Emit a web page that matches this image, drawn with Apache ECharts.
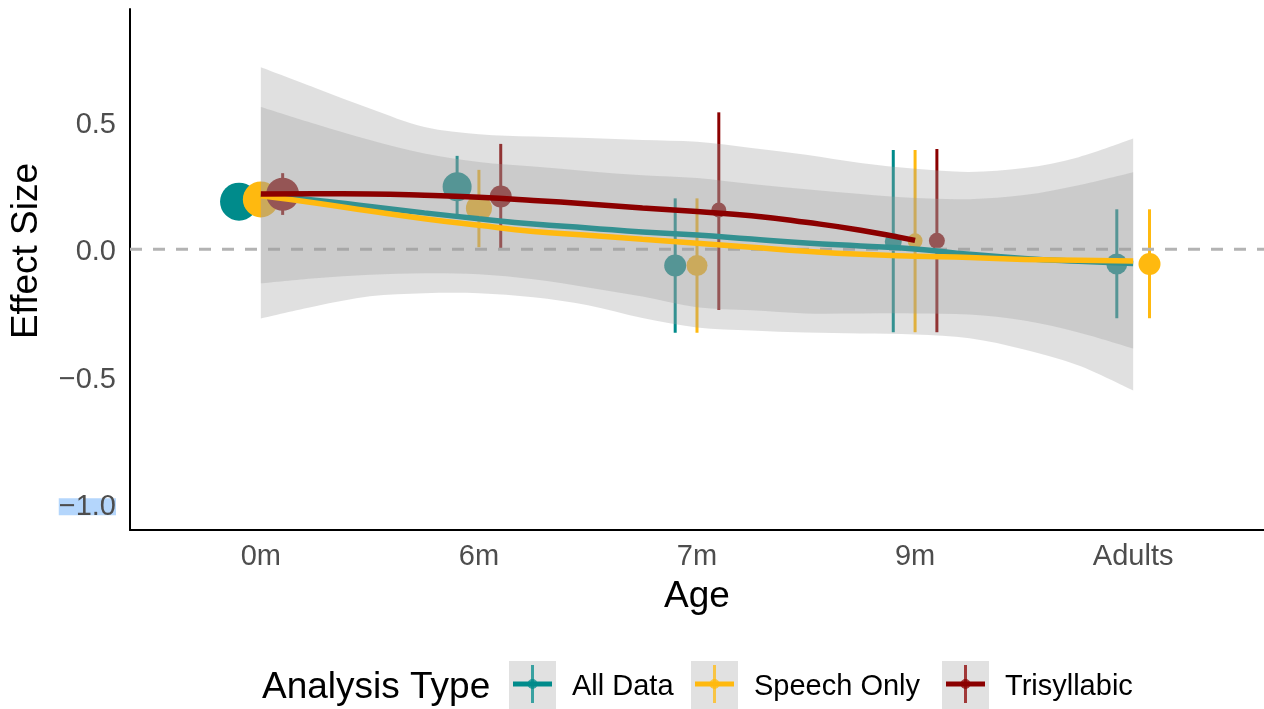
<!DOCTYPE html>
<html>
<head>
<meta charset="utf-8">
<script src="https://cdn.jsdelivr.net/npm/echarts@6/dist/echarts.min.js"></script>
<style>
  html, body { margin: 0; padding: 0; background: #fff; }
  #chart { width: 1264px; height: 709px; }
</style>
</head>
<body>
<div id="chart"></div>
<script>
// ---- data -------------------------------------------------------------
const ageLabels = ['0m', '6m', '7m', '9m', 'Adults'];
const yTickValues = [-1, -0.5, 0, 0.5];
const groupNames = ['All Data', 'Speech Only', 'Trisyllabic'];
const groupColors = ['#008B8B', '#FFB90F', '#8B0000'];

// pooled effect size per age group, with 95% CI and point weight (diameter)
const allDataMean = [0.187, 0.246, -0.064, 0.030, -0.058];
const allDataLow  = [0.125, 0.128, -0.328, -0.326, -0.271];
const allDataHigh = [0.250, 0.367, 0.200, 0.390, 0.157];
const allDataSize = [38, 29, 22, 17, 21];

const speechMean = [0.196, 0.161, -0.064, 0.033, -0.058];
const speechLow  = [0.135, 0.008, -0.328, -0.326, -0.271];
const speechHigh = [0.257, 0.312, 0.200, 0.390, 0.157];
const speechSize = [36, 26, 21, 15, 22];

const triMean = [0.216, 0.207, 0.154, 0.033];
const triLow  = [0.135, 0.000, -0.238, -0.326];
const triHigh = [0.299, 0.414, 0.538, 0.394];
const triSize = [33, 22, 15, 16];

// loess fits evaluated along the age axis
const fitX = [1, 1.25, 1.5, 1.75, 2, 2.25, 2.5, 2.75, 3, 3.25, 3.5, 3.75, 4, 4.25, 4.5, 4.75, 5];
const allDataFit = [0.215, 0.193, 0.168, 0.143, 0.120, 0.099, 0.084, 0.068, 0.056, 0.040, 0.025, 0.013, 0.001, -0.020, -0.036, -0.047, -0.056];
const speechFit  = [0.210, 0.182, 0.150, 0.120, 0.094, 0.070, 0.055, 0.039, 0.024, 0.008, -0.008, -0.020, -0.027, -0.032, -0.040, -0.043, -0.046];
const triFit     = [0.217, 0.218, 0.217, 0.212, 0.204, 0.192, 0.178, 0.162, 0.148, 0.132, 0.106, 0.075, 0.035];

// confidence bands of the fits
const wideBandHigh  = [0.715, 0.634, 0.553, 0.480, 0.452, 0.443, 0.437, 0.429, 0.422, 0.398, 0.371, 0.339, 0.316, 0.304, 0.319, 0.362, 0.435];
const wideBandLow   = [-0.272, -0.224, -0.185, -0.173, -0.173, -0.189, -0.220, -0.270, -0.307, -0.319, -0.327, -0.331, -0.335, -0.350, -0.394, -0.457, -0.555];
const narrowBandHigh = [0.559, 0.492, 0.429, 0.376, 0.343, 0.325, 0.307, 0.291, 0.280, 0.256, 0.236, 0.217, 0.201, 0.197, 0.213, 0.252, 0.303];
const narrowBandLow  = [-0.134, -0.114, -0.100, -0.094, -0.098, -0.118, -0.150, -0.186, -0.228, -0.240, -0.252, -0.252, -0.252, -0.256, -0.280, -0.327, -0.390];

// ---- helpers ----------------------------------------------------------
const FONT = 'Liberation Sans, Arial, Helvetica, sans-serif';
const RIBBON = 'rgba(158,158,158,0.32)';
const DODGE_WIDTH = 0.3;

const groups = [
  { name: groupNames[0], color: groupColors[0], mean: allDataMean, lo: allDataLow, hi: allDataHigh, size: allDataSize, fit: allDataFit },
  { name: groupNames[1], color: groupColors[1], mean: speechMean, lo: speechLow, hi: speechHigh, size: speechSize, fit: speechFit },
  { name: groupNames[2], color: groupColors[2], mean: triMean, lo: triLow, hi: triHigh, size: triSize, fit: triFit }
];

// side-by-side placement of the groups present at an age
function dodgeX(gi, ai) {
  const present = groups.map((g, k) => (g.mean[ai] != null ? k : -1)).filter(k => k >= 0);
  const n = present.length;
  const rank = present.indexOf(gi);
  return ai + 1 + (rank - (n - 1) / 2) * (DODGE_WIDTH / n);
}

// Catmull-Rom curve through pixel points, as SVG path commands
function curveCmds(pts) {
  let d = '';
  for (let i = 0; i < pts.length - 1; i++) {
    const p0 = pts[Math.max(i - 1, 0)], p1 = pts[i], p2 = pts[i + 1], p3 = pts[Math.min(i + 2, pts.length - 1)];
    const c1 = [p1[0] + (p2[0] - p0[0]) / 6, p1[1] + (p2[1] - p0[1]) / 6];
    const c2 = [p2[0] - (p3[0] - p1[0]) / 6, p2[1] - (p3[1] - p1[1]) / 6];
    d += ' C' + c1[0] + ' ' + c1[1] + ' ' + c2[0] + ' ' + c2[1] + ' ' + p2[0] + ' ' + p2[1];
  }
  return d;
}

function bandSeries(high, low, z) {
  return {
    type: 'custom', silent: true, z: z, data: [[fitX[0], 0]],
    renderItem: function (params, api) {
      const top = fitX.map((x, i) => api.coord([x, high[i]]));
      const bot = fitX.map((x, i) => api.coord([x, low[i]])).reverse();
      const d = 'M' + top[0][0] + ' ' + top[0][1] + curveCmds(top) +
        ' L' + bot[0][0] + ' ' + bot[0][1] + curveCmds(bot) + ' Z';
      return { type: 'path', shape: { pathData: d }, style: { fill: RIBBON } };
    }
  };
}

function errorBarSeries(g, gi) {
  const data = [];
  g.mean.forEach((m, i) => { if (m != null) data.push([dodgeX(gi, i), g.lo[i], g.hi[i]]); });
  return {
    type: 'custom', silent: true, z: 1, data: data, encode: { x: 0, y: [1, 2] },
    renderItem: function (params, api) {
      const a = api.coord([api.value(0), api.value(1)]);
      const b = api.coord([api.value(0), api.value(2)]);
      return { type: 'line', shape: { x1: a[0], y1: a[1], x2: b[0], y2: b[1] }, style: { stroke: g.color, lineWidth: 3 } };
    }
  };
}

function pointSeries(g, gi) {
  const data = [];
  g.mean.forEach((m, i) => { if (m != null) data.push([dodgeX(gi, i), m, g.size[i]]); });
  return {
    type: 'scatter', silent: true, z: 1, data: data,
    symbolSize: v => v[2],
    itemStyle: { color: g.color, opacity: 1 }
  };
}

function fitSeries(g, z) {
  return {
    type: 'line', silent: true, z: z, smooth: true, showSymbol: false,
    data: g.fit.map((v, i) => [fitX[i], v]),
    lineStyle: { color: g.color, width: 5.5, cap: 'butt' }
  };
}

const zeroLine = {
  type: 'custom', silent: true, z: 2, data: [[1, 0]],
  renderItem: function (params, api) {
    const cs = params.coordSys;
    const y = api.coord([1, 0])[1];
    return { type: 'line', shape: { x1: cs.x, y1: y, x2: cs.x + cs.width, y2: y },
      style: { stroke: '#b3b3b3', lineWidth: 3, lineDash: [12, 11] } };
  }
};

// ---- legend (drawn as graphics) ---------------------------------------
const legendY = 686;
const keyX = [509, 691, 942];
const labelX = [572, 754, 1005];
const legendGraphics = [
  { type: 'text', x: 262, y: legendY + 2, style: { text: 'Analysis Type', font: '37px ' + FONT, fill: '#000', align: 'left', verticalAlign: 'middle' } }
];
groups.forEach((g, i) => {
  const x0 = keyX[i], cx = x0 + 23.5;
  legendGraphics.push(
    { type: 'rect', shape: { x: x0, y: 661, width: 47, height: 48 }, style: { fill: '#e1e1e1' } },
    { type: 'line', shape: { x1: cx, y1: 665, x2: cx, y2: 703 }, style: { stroke: g.color, lineWidth: 3, opacity: 0.75 } },
    { type: 'line', shape: { x1: x0 + 4, y1: legendY - 2, x2: x0 + 43, y2: legendY - 2 }, style: { stroke: g.color, lineWidth: 5 } },
    { type: 'circle', shape: { cx: cx, cy: legendY - 2, r: 5 }, style: { fill: g.color, opacity: 0.75 } },
    { type: 'text', x: labelX[i], y: legendY + 1, style: { text: g.name, font: '29px ' + FONT, fill: '#000', align: 'left', verticalAlign: 'middle' } }
  );
});

// ---- chart ------------------------------------------------------------
const chart = echarts.init(document.getElementById('chart'), null, { renderer: 'canvas' });
chart.setOption({
  animation: false,
  backgroundColor: '#ffffff',
  textStyle: { fontFamily: FONT },
  grid: { left: 130, right: 0, top: 9, bottom: 179, containLabel: false },
  xAxis: {
    type: 'value', min: 0.4, max: 5.6,
    axisLine: { show: true, onZero: false, lineStyle: { color: '#000', width: 2 } },
    axisTick: { show: false },
    splitLine: { show: false },
    axisLabel: {
      customValues: [1, 2, 3, 4, 5],
      formatter: v => ageLabels[Math.round(v) - 1],
      fontSize: 29, color: '#4d4d4d', margin: 12, fontFamily: FONT
    }
  },
  yAxis: {
    type: 'value', min: -1.103, max: 0.944,
    axisLine: { show: true, onZero: false, lineStyle: { color: '#000', width: 2 } },
    axisTick: { show: false },
    splitLine: { show: false },
    axisLabel: {
      customValues: yTickValues,
      formatter: function (v) {
        const s = (v < 0 ? '\u2212' : '') + Math.abs(v).toFixed(1);
        return v === -1 ? '{sel|' + s + '}' : s;
      },
      fontSize: 29, color: '#4d4d4d', margin: 14, fontFamily: FONT,
      padding: [6, 0, 0, 0],
      rich: { sel: { fontSize: 29, color: '#4d4d4d', fontFamily: FONT, backgroundColor: '#b4d6fc', height: 17, lineHeight: 17, padding: [0, 0, 0, 0] } }
    }
  },
  graphic: [
    { type: 'text', x: 27, y: 251, rotation: Math.PI / 2, style: { text: 'Effect Size', font: '37px ' + FONT, fill: '#000', align: 'center', verticalAlign: 'middle' } },
    { type: 'text', x: 697, y: 597, style: { text: 'Age', font: '37px ' + FONT, fill: '#000', align: 'center', verticalAlign: 'middle' } }
  ].concat(legendGraphics),
  series: [
    ...groups.map(errorBarSeries),
    ...groups.map(pointSeries),
    zeroLine,
    bandSeries(wideBandHigh, wideBandLow, 3),
    fitSeries(groups[0], 4),
    bandSeries(narrowBandHigh, narrowBandLow, 5),
    fitSeries(groups[1], 6),
    fitSeries(groups[2], 7)
  ]
});
</script>
</body>
</html>
